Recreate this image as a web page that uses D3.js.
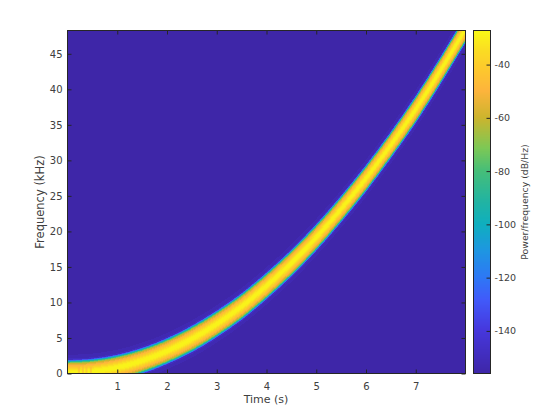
<!DOCTYPE html>
<html><head><meta charset="utf-8">
<style>html,body{margin:0;background:#fff}svg{display:block}text{font-family:"DejaVu Sans",sans-serif}</style>
<script src="https://cdn.jsdelivr.net/npm/d3@7"></script></head><body><div id="c"></div>
<script>
const xTicks=[1,2,3,4,5,6,7];
const yTicks=[0,5,10,15,20,25,30,35,40,45];
const cbTicks=[-40,-60,-80,-100,-120,-140];
const times=[0,0.5,1,1.5,2,2.5,3,3.5,4,4.5,5,5.5,6,6.5,7,7.5,8];
const ridgeKHz=[0.0,0.2,0.75,1.7,3.05,4.75,6.85,9.3,12.2,15.4,19.0,23.0,27.3,32.0,37.0,42.5,48.3];
const halfWidthKHz=[1.7,1.68,1.68,1.7,1.7,1.75,1.75,1.75,1.75,1.75,1.75,1.75,1.75,1.75,1.8,1.8,1.8];
// streaks near the start of the ridge: time and top frequency
const streakTimes=[0.22,0.3,0.37,0.46];
const streakTopKHz=[0.95,1.0,0.9,0.85];
// level in dB and its distance from the ridge as a share of the half width
const levelsDb=[-153,-149,-142,-130,-120,-110,-100,-90,-80,-72,-66,-60,-55,-50,-46,-42,-38,-34,-31,-29];
const levelShare=[1.5,1.2,1.1,1.07,1.04,1.01,0.98,0.94,0.9,0.86,0.82,0.78,0.71,0.63,0.56,0.49,0.41,0.32,0.23,0.14];
const colorDb=[-156,-140,-128.5,-120,-110,-100,-91,-80,-71.5,-60,-50,-42,-35,-27];
const colorHex=["#3e26a8","#4637dc","#415afa","#2d78f5","#1e96e1","#0fafbe","#23b4a0","#46be78","#7dc855","#cdb42d","#fdb43c","#fdc82d","#fadc23","#f9fb15"];

const W=560,H=420,L=67,R=465,T=30,B=373,CL=473,CR=490;
const svg=d3.select("#c").append("svg").attr("width",W).attr("height",H);
const x=d3.scaleLinear().domain([0,8]).range([L,R]);
const y=d3.scaleLinear().domain([0,48.28]).range([B,T]);
const cb=d3.scaleLinear().domain([-156,-27.2]).range([B,T]);
const color=d3.scaleLinear().domain(colorDb).range(colorHex).clamp(true);
const rows=d3.zip(times,ridgeKHz,halfWidthKHz);
const label=d=>String(d);

svg.append("clipPath").attr("id","p").append("rect").attr("x",L).attr("y",T).attr("width",R-L).attr("height",B-T);
const plot=svg.append("g").attr("clip-path","url(#p)");
plot.append("rect").attr("x",L).attr("y",T).attr("width",R-L).attr("height",B-T).attr("fill",color(-156));
levelsDb.forEach((db,i)=>{
  const s=levelShare[i];
  const area=d3.area().curve(d3.curveCatmullRom.alpha(0.5))
    .x(d=>x(d[0])).y0(d=>y(d[1]-s*d[2])).y1(d=>y(d[1]+s*d[2]));
  plot.append("path").datum(rows).attr("d",area).attr("fill",color(db)).attr("shape-rendering","crispEdges");
});
plot.append("g").selectAll("rect").data(d3.zip(streakTimes,streakTopKHz)).join("rect")
  .attr("x",d=>x(d[0])).attr("width",x(0.04)-x(0)).attr("y",d=>y(d[1])).attr("height",d=>y(0)-y(d[1]))
  .attr("fill",color(-50)).attr("opacity",0.55);

const cbRows=d3.range(T,B);
svg.append("g").selectAll("rect").data(cbRows).join("rect")
  .attr("x",CL).attr("width",CR-CL).attr("y",d=>d).attr("height",1)
  .attr("fill",d=>color(cb.invert(d+.5)));

function style(g,fs){
  g.select(".domain").remove();
  g.selectAll("line").attr("stroke","#262626");
  g.selectAll("text").attr("fill","#404040").attr("font-size",fs);
}
function frame(x0,x1){
  svg.append("rect").attr("x",x0+.5).attr("y",T+.5).attr("width",x1-x0).attr("height",B-T)
   .attr("fill","none").attr("stroke","#262626");
}
svg.append("g").attr("transform",`translate(0.5,${B+.5})`)
  .call(d3.axisBottom(x).tickValues(xTicks).tickFormat(label).tickSizeInner(-4).tickSizeOuter(0).tickPadding(9)).call(style,10);
svg.append("g").attr("transform",`translate(0.5,${T+.5})`)
  .call(d3.axisTop(x).tickValues(xTicks).tickFormat("").tickSizeInner(-4).tickSizeOuter(0)).call(style,10);
svg.append("g").attr("transform",`translate(${L+.5},0.5)`)
  .call(d3.axisLeft(y).tickValues(yTicks).tickFormat(label).tickSizeInner(-4).tickSizeOuter(0).tickPadding(5)).call(style,10);
svg.append("g").attr("transform",`translate(${R+.5},0.5)`)
  .call(d3.axisRight(y).tickValues(yTicks).tickFormat("").tickSizeInner(-4).tickSizeOuter(0)).call(style,10);
svg.append("g").attr("transform",`translate(${CR+.5},0.5)`)
  .call(d3.axisRight(cb).tickValues(cbTicks).tickFormat(label).tickSizeInner(-4).tickSizeOuter(0).tickPadding(4)).call(style,9.5);
frame(L,R);frame(CL,CR);

svg.append("text").attr("x",266).attr("y",403).attr("text-anchor","middle").attr("font-size",11).attr("fill","#404040").text("Time (s)");
svg.append("text").attr("transform","translate(44,202) rotate(-90)").attr("text-anchor","middle").attr("font-size",11.5).attr("fill","#404040").text("Frequency (kHz)");
svg.append("text").attr("transform","translate(528,202) rotate(-90)").attr("text-anchor","middle").attr("font-size",9.3).attr("fill","#404040").text("Power/frequency (dB/Hz)");
</script></body></html>
